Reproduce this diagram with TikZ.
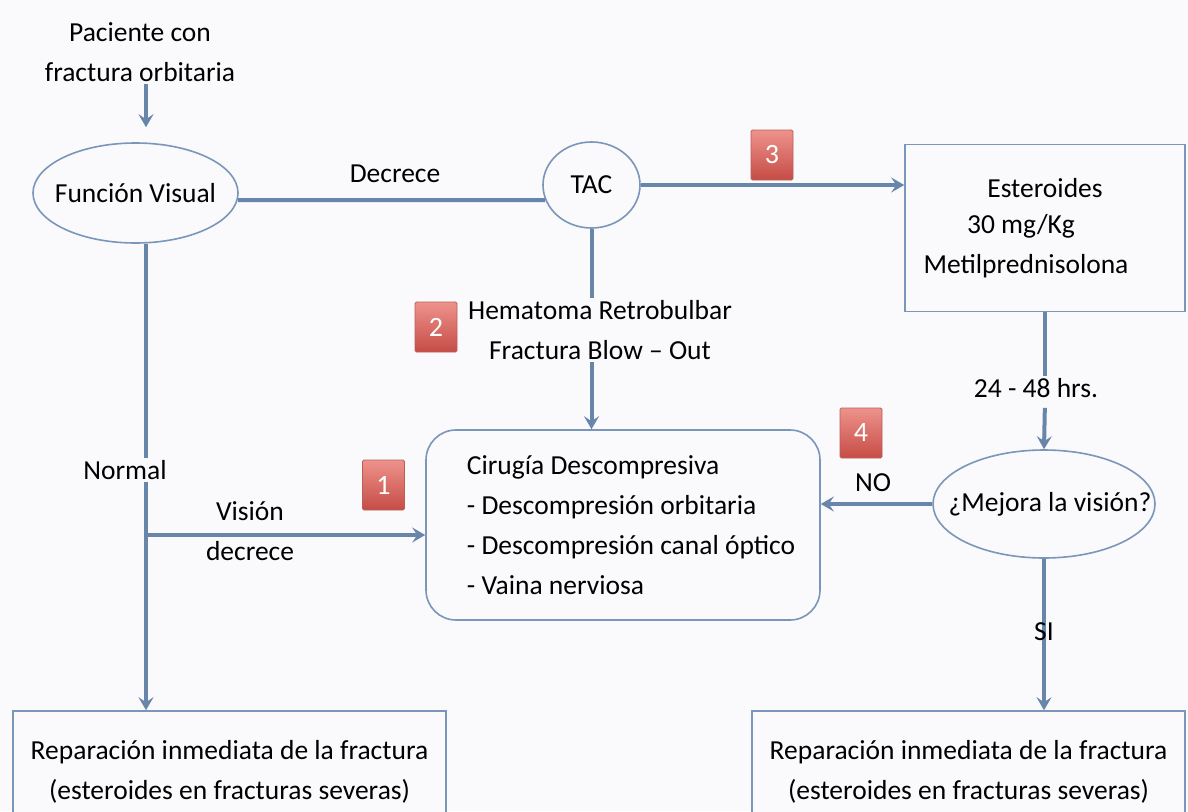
\documentclass[tikz,border=0pt]{standalone}
\usepackage{fontspec}
\setmainfont{Carlito}
\usetikzlibrary{arrows.meta,positioning,shapes.geometric}
\definecolor{linkblue}{RGB}{104,134,170}
\definecolor{edgeblue}{RGB}{122,150,184}
\definecolor{bgpaper}{RGB}{250,250,252}
\definecolor{badgetop}{RGB}{238,146,140}
\definecolor{badgebot}{RGB}{198,76,70}
\definecolor{badgeedge}{RGB}{185,95,90}
\tikzset{
  linkln/.style={line width=4pt, draw=linkblue},
  flowln/.style={linkln, -{Stealth[length=13pt,width=15pt,inset=5pt]}},
  ovalbox/.style={ellipse, draw=edgeblue, line width=1.6pt, fill=bgpaper, inner sep=0pt},
  sqbox/.style={rectangle, draw=edgeblue, line width=1.6pt, fill=bgpaper, inner sep=0pt},
  roundbox/.style={sqbox, rounded corners=30pt},
  badge/.style={rectangle, minimum width=42pt, minimum height=50pt, inner sep=0pt,
    draw=badgeedge, line width=0.8pt, rounded corners=1.5pt,
    top color=badgetop, bottom color=badgebot, text=white,
    font=\fontsize{28}{30}\selectfont},
  lbl/.style={inner sep=2pt},
}
\newcommand{\nowd}[1]{\makebox[0pt]{#1}}

\begin{document}
\begin{tikzpicture}[x=1pt, y=-1pt, font=\fontsize{27.5}{40}\selectfont]
  \clip (0,0) rectangle (1188,811);
  \fill[bgpaper] (0,0) rectangle (1188,811);
  \coordinate (lc) at (146,0);
  % shapes
  \node[lbl, align=center] (pac) at (140,52) {Paciente con\\fractura orbitaria};
  \node[ovalbox, minimum width=205pt, minimum height=100pt] (fv) at (135.5,193) {\nowd{Función Visual}};
  \node[ovalbox, minimum width=97pt, minimum height=86pt] (tac) at (591.5,185) {TAC};
  \node[sqbox, minimum width=280pt, minimum height=167pt, align=center] (est) at (1045,228)
    {\raisebox{-4pt}{Esteroides}\\30 mg/Kg\hspace*{48pt}\mbox{}\\Metilprednisolona\hspace*{38pt}\mbox{}};
  \node[lbl, align=center] (hema) at (600,330) {Hematoma Retrobulbar\\Fractura Blow – Out};
  \node[roundbox, minimum width=394pt, minimum height=190pt, align=left] (cir) at (623,525)
    {\hspace*{16pt}Cirugía Descompresiva\\\hspace*{16pt}- Descompresión orbitaria\\\hspace*{16pt}- Descompresión canal óptico\\\hspace*{16pt}- Vaina nerviosa};
  \node[ovalbox, minimum width=222pt, minimum height=108pt] (mej) at (1044,504) {\nowd{\hspace*{12pt}¿Mejora la visión?}};
  \node[sqbox, minimum width=433pt, minimum height=122pt, align=center] (rep1) at (229.5,772)
    {Reparación inmediata de la fractura\\(esteroides en fracturas severas)};
  \node[sqbox, minimum width=433pt, minimum height=122pt, align=center] (rep2) at (968.5,772)
    {Reparación inmediata de la fractura\\(esteroides en fracturas severas)};
  % labels
  \node[lbl] (dec) at (395,174) {Decrece};
  \node[lbl] (nrm) at (125,470) {Normal};
  \node[lbl, align=center] (vd) at (250,531) {Visión\\decrece};
  \node[lbl] (no) at (873,483) {NO};
  \node[lbl] (hrs) at (1036,388) {24 - 48 hrs.};
  % connectors
  \draw[flowln, shorten >=15pt] (lc |- pac.south) -- (lc |- fv.north);
  \draw[linkln] (fv.-4) -- (tac.198);
  \draw[flowln] (tac.east) -- (tac.east -| est.west);
  \draw[linkln] (tac.south) -- (tac.south |- hema.north);
  \draw[flowln] (tac.south |- hema.south) -- (tac.south |- cir.north);
  \draw[linkln] (lc |- fv.south) -- (lc |- nrm.north);
  \draw[flowln] (lc |- nrm.south) -- (lc |- rep1.north);
  \coordinate (br) at (146,535);
  \draw[flowln] (br) -- (br -| cir.west);
  \draw[linkln] (est.south) -- (est.south |- hrs.north);
  \draw[flowln, shorten <=8pt] (est.south |- hrs.south) -- (mej.north);
  \draw[flowln] (mej.west) -- (mej.west -| cir.east);
  \draw[flowln] (mej.south) -- (mej.south |- rep2.north);
  \node[lbl] (si) at (1044,632) {SI};
  % numbered markers
  \node[badge] (b1) at (383.5,485) {1};
  \node[badge] (b2) at (436,327) {2};
  \node[badge] (b3) at (772,155) {3};
  \node[badge] (b4) at (861,433) {4};
\end{tikzpicture}
\end{document}
